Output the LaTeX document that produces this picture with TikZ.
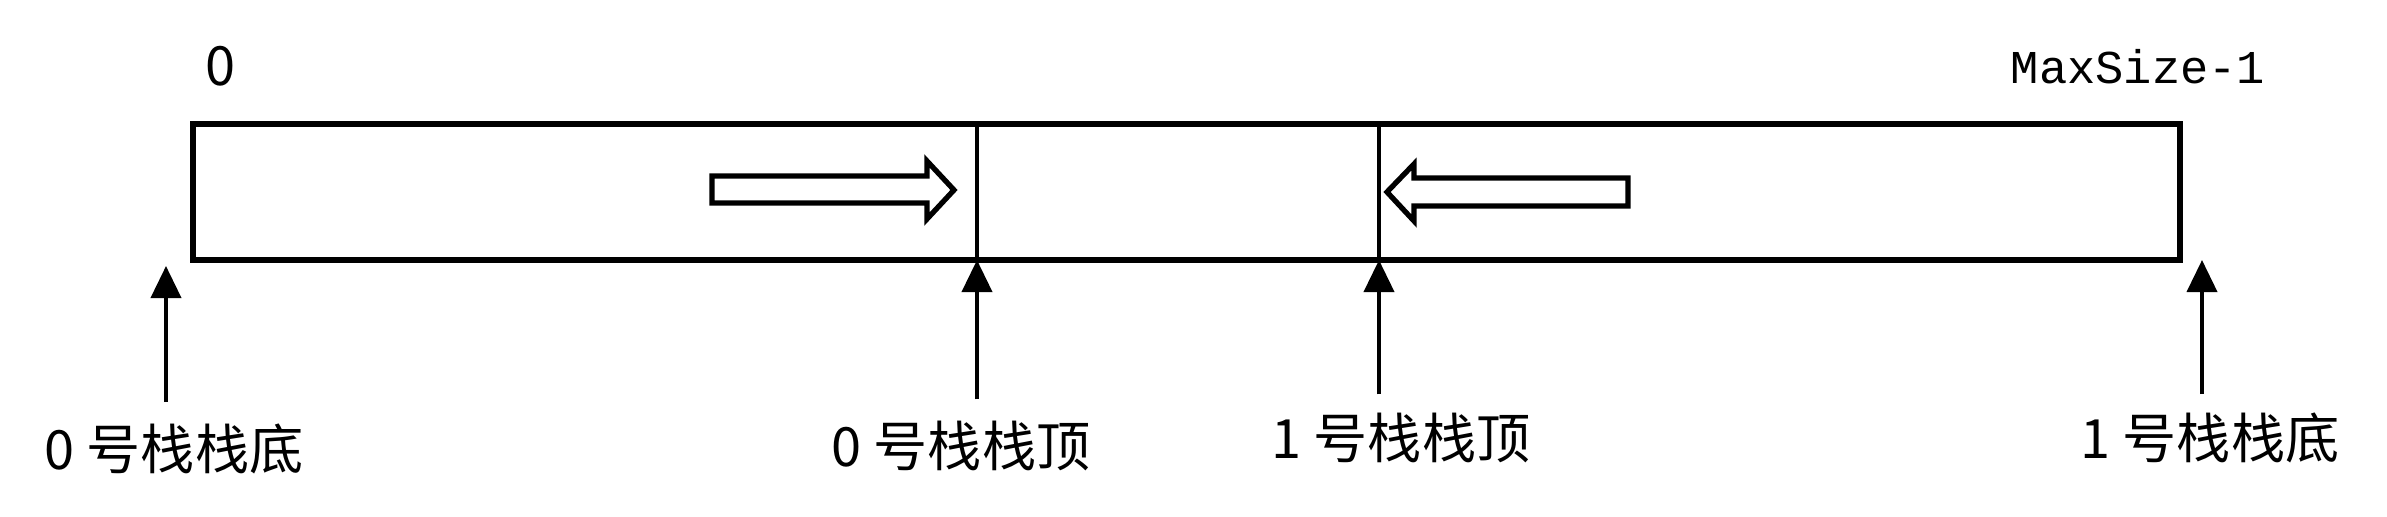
\documentclass[tikz,border=0pt]{standalone}
\usepackage{fontspec}
\setmainfont{Noto Sans CJK SC}
\newfontfamily\monofont{Liberation Mono}
\usetikzlibrary{arrows.meta,positioning}

\begin{document}
\begin{tikzpicture}[
  pointer/.style={line width=1.1pt,-{Triangle[length=3.2mm,width=3mm]}},
  pushdir/.style={draw,line width=1.5pt,fill=white},
  lbl/.style={font=\fontsize{15.4}{18}\selectfont,inner sep=0pt}
]
\useasboundingbox (0,0) rectangle (23.87,5.16);
\node[draw,line width=1.6pt,minimum width=19.87cm,minimum height=1.36cm,inner sep=0pt] (stk) at (11.865,3.24) {};
\coordinate (pb0) at (1.66,2.50);
\coordinate (pt0) at (9.77,2.56);
\coordinate (pt1) at (13.79,2.56);
\coordinate (pb1) at (22.02,2.56);
\draw[line width=1.1pt] (pt0) -- (pt0 |- stk.north);
\draw[line width=1.1pt] (pt1) -- (pt1 |- stk.north);
\draw[pushdir] (7.12,3.13) -- (9.27,3.13) -- (9.27,2.97) -- (9.54,3.26) -- (9.27,3.55) -- (9.27,3.40) -- (7.12,3.40) -- cycle;
\draw[pushdir] (16.28,3.10) -- (14.14,3.10) -- (14.14,2.95) -- (13.87,3.24) -- (14.14,3.52) -- (14.14,3.38) -- (16.28,3.38) -- cycle;
\node[lbl] (idx0) at (2.21,4.50) {0};
\node[lbl,font=\monofont\fontsize{13.4}{16}\selectfont] (idxmax) at (21.38,4.49) {MaxSize-1};
\node[lbl] (b0) at (1.74,0.67) {0 号栈栈底};
\node[lbl] (t0) at (9.61,0.70) {0 号栈栈顶};
\node[lbl] (t1) at (14.01,0.78) {1 号栈栈顶};
\node[lbl] (b1) at (22.10,0.78) {1 号栈栈底};
\draw[pointer] (b0.north -| pb0) ++(0,0.21) -- (pb0);
\draw[pointer] (t0.north -| pt0) ++(0,0.21) -- (pt0);
\draw[pointer] (t1.north -| pt1) ++(0,0.18) -- (pt1);
\draw[pointer] (b1.north -| pb1) ++(0,0.18) -- (pb1);
\end{tikzpicture}
\end{document}
